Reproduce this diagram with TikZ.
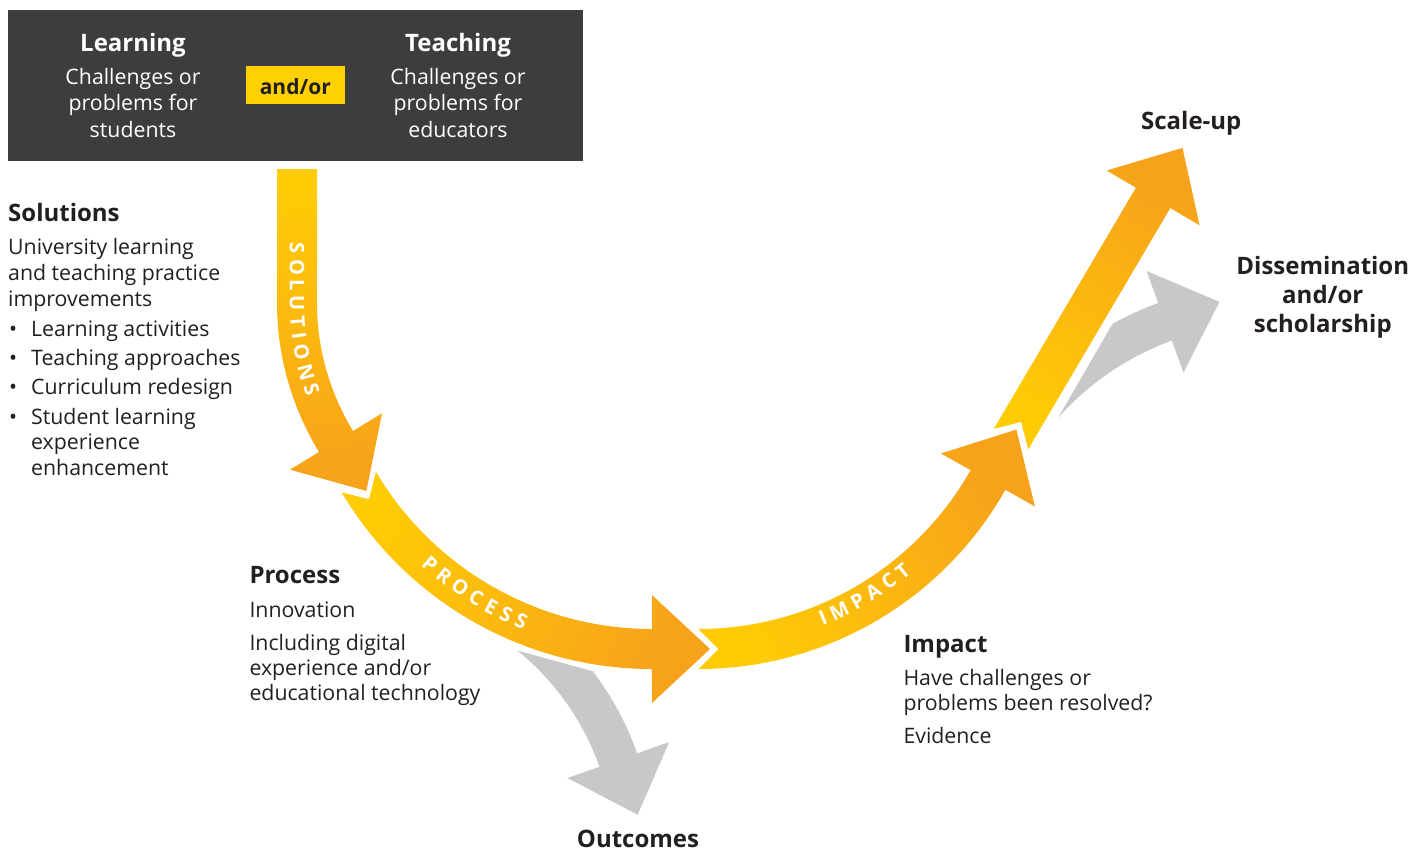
\documentclass[tikz,border=0pt]{standalone}
\usepackage{fontspec}
\setmainfont{Open Sans}
\usetikzlibrary{calc, positioning}
\definecolor{cDark}{HTML}{3D3D3D}
\definecolor{cText}{HTML}{231F20}
\definecolor{cYellow}{HTML}{FFCB05}
\definecolor{cOrange}{HTML}{F7A21B}
\definecolor{cTag}{HTML}{FFD100}
\definecolor{cGrey}{HTML}{C7C8CA}
\newcommand{\listdot}{\llap{\textbullet\hspace{14pt}}}
\tikzset{
  flowarrow/.style={top color=cYellow, bottom color=cOrange, shading angle=#1},
  greyarrow/.style={fill=cGrey},
  heading/.style={font=\fontsize{24}{28}\selectfont\bfseries, text=cText, inner sep=0pt},
  bodytext/.style={font=\fontsize{21.3}{26}\selectfont, text=cText, inner sep=0pt, align=left},
  boxtitle/.style={font=\fontsize{24}{28}\selectfont\bfseries, text=white, inner sep=0pt},
  boxtext/.style={font=\fontsize{21.3}{26.5}\selectfont, text=white, inner sep=0pt, align=center},
  arrowlabel/.style={font=\fontsize{20}{20}\selectfont\bfseries, text=white, inner sep=0pt,
    text height=14.3pt, text depth=0pt},
}
\begin{document}
\begin{tikzpicture}[x=1pt, y=-1pt]
  \useasboundingbox (0,0) rectangle (1428,852);

  % Header with the two kinds of challenges
  \node[fill=cDark, minimum width=575, minimum height=151, inner sep=0pt, anchor=north west]
    (header) at (8,10) {};
  \node[boxtitle, anchor=base] (learn) at (133,51.7) {Learning};
  \node[boxtext, anchor=base] (learntxt) at (133,137.3) {Challenges or\\problems for\\students};
  \node[boxtitle, anchor=base] (teach) at (458,51.7) {Teaching};
  \node[boxtext, anchor=base] (teachtxt) at (458,137.3) {Challenges or\\problems for\\educators};
  \node[fill=cTag, minimum width=99, minimum height=38, inner sep=0pt, text=cText,
        font=\fontsize{21}{24}\selectfont\bfseries, text height=18pt, text depth=0pt]
    (andor) at (295.3,85) {and/or};

  % Grey side arrows
  \fill[greyarrow] (517.4,650.6) arc[start angle=-51, end angle=-19.5, radius=262]
    -- (567.4,778.0) -- (637.7,814.7) -- (669.2,742.0) -- (637.2,753.4)
    arc[start angle=-19.5, end angle=-37.3, radius=302] -- cycle;
  \fill[greyarrow] (1058,418) arc[start angle=221.54, end angle=250, radius=280]
    -- (1183.5,372.5) -- (1219.5,301.9) -- (1146.5,270.9) -- (1158.2,303.0)
    arc[start angle=250, end angle=241.0, radius=320] -- cycle;

  % Main flow: solutions, process, impact, scale-up
  \coordinate (solc) at (562,303);
  \coordinate (procc) at (652,308);
  \coordinate (impc) at (698.5,316.6);
  \shade[flowarrow=10] (277,169) -- (277,303)
    arc[start angle=180, end angle=148.5, radius=285]
    -- (290.0,469.7) -- (366.4,490.9) -- (382.1,413.2) -- (353.1,431.0)
    arc[start angle=148.5, end angle=180, radius=245] -- (317,169) -- cycle;
  \shade[flowarrow=62] (376.0,471.9) -- (369.0,499.3) -- (341.6,492.3)
    arc[start angle=149.3, end angle=90, radius=361]
    -- (652,703) -- (710,649) -- (652,595) -- (652,629)
    arc[start angle=90, end angle=149.3, radius=321] -- cycle;
  \shade[flowarrow=121] (698.5,629) -- (718.5,649) -- (698.5,669)
    arc[start angle=90, end angle=29.44, radius=352.4]
    -- (1034.9,506.5) -- (1016.4,429.5) -- (940.9,453.5) -- (970.6,470.1)
    arc[start angle=29.44, end angle=90, radius=312.4] -- cycle;
  \shade[flowarrow=149] (993.8,428.9) -- (1021.2,421.9) -- (1028.2,449.3)
    -- (1170.3,208.1) -- (1199.6,225.3) -- (1182.5,147.9) -- (1106.6,170.5)
    -- (1135.9,187.7) -- cycle;

  % Letters along the arrows
  \foreach \ch/\s [count=\i] in {S/79.5, O/98, L/116.4}
    \node[arrowlabel, rotate=-90] (solA\i) at (297,169+\s) {\ch};
  \foreach \ch/\a [count=\i] in {U/179.9, T/176, I/172.8, O/169.3, N/164.9, S/160.9}
    \node[arrowlabel, rotate=90-\a] (solB\i) at ($(solc)+(\a:265)$) {\ch};
  \foreach \ch/\a [count=\i] in {P/130.9, R/127.8, O/124.45, C/121.2, E/118.3, S/115.5, S/112.7}
    \node[arrowlabel, rotate=90-\a] (proc\i) at ($(procc)+(\a:339)$) {\ch};
  \foreach \ch/\a [count=\i] in {I/67.56, M/64.43, P/60.81, A/57.54, C/54.30, T/51.24}
    \node[arrowlabel, rotate=90-\a] (imp\i) at ($(impc)+(\a:326)$) {\ch};

  % Solutions
  \node[heading, anchor=base west] (soltitle) at (8,221.7) {Solutions};
  \node[bodytext, anchor=base west] (soltext) at (8,306.3)
    {University learning\\and teaching practice\\improvements};
  \node[bodytext, anchor=base west, font=\fontsize{21.3}{25.4}\selectfont] (sollist) at (31,475)
    {\listdot Learning activities\\[3.9pt]\listdot Teaching approaches\\[3.9pt]%
     \listdot Curriculum redesign\\[3.9pt]\listdot Student learning\\experience\\enhancement};

  % Process
  \node[heading, anchor=base west] (proctitle) at (249.3,583.3) {Process};
  \node[bodytext, anchor=base west, font=\fontsize{21.3}{25}\selectfont] (proctext) at (249.3,700.7)
    {Innovation\\[8pt]Including digital\\experience and/or\\educational technology};

  % Impact
  \node[heading, anchor=base west] (imptitle) at (903.3,652.7) {Impact};
  \node[bodytext, anchor=base west, font=\fontsize{21.3}{25}\selectfont] (imptext) at (903.3,743)
    {Have challenges or\\problems been resolved?\\[8pt]Evidence};

  % Outcomes and dissemination
  \node[heading, anchor=base] (outcomes) at (638,847.5) {Outcomes};
  \node[heading, anchor=base] (scaleup) at (1191.3,129.3) {Scale-up};
  \node[heading, anchor=base, align=center, font=\fontsize{24}{28.7}\selectfont\bfseries]
    (dissem) at (1322.8,332.3) {Dissemination\\and/or\\scholarship};
\end{tikzpicture}
\end{document}
